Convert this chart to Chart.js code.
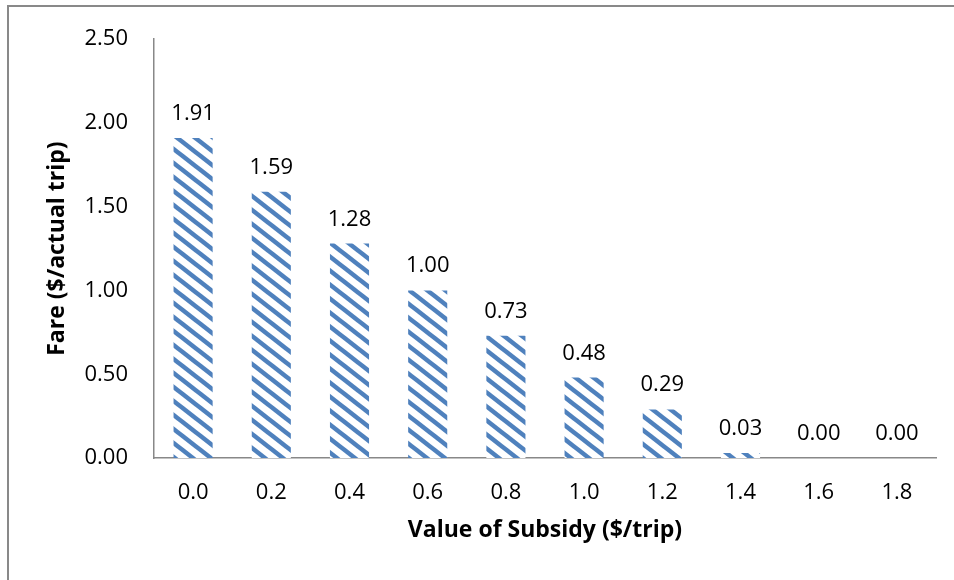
<!DOCTYPE html>
<html>
<head>
    <meta charset="utf-8">
    <title>Fare vs Value of Subsidy</title>
    <script src="https://cdn.jsdelivr.net/npm/chart.js"></script>
    <style>
        html, body {
            margin: 0;
            padding: 0;
            background: #fff;
            overflow: hidden;
        }
        .frame {
            position: absolute;
            left: 7px;
            top: 5px;
            width: 1000px;
            height: 700px;
            border-left: 2px solid #898989;
            border-top: 2px solid #898989;
        }
        .chart-container {
            position: absolute;
            left: 0;
            top: 0;
            width: 954px;
            height: 580px;
        }
    </style>
</head>
<body>
    <div class="frame"></div>
    <div class="chart-container">
        <canvas id="myChart"></canvas>
    </div>

    <script>
        // data
        const subsidyLabels = ['0.0', '0.2', '0.4', '0.6', '0.8', '1.0', '1.2', '1.4', '1.6', '1.8'];
        const fareValues = [1.91, 1.59, 1.28, 1.00, 0.73, 0.48, 0.29, 0.03, 0.00, 0.00];
        const yTickValues = [0, 0.5, 1.0, 1.5, 2.0, 2.5];

        const FONT = '"Open Sans", "Liberation Sans", sans-serif';

        // diagonal hatch fill like Excel's "wide downward diagonal"
        function makeHatch() {
            const w = 18, h = 14;
            const c = document.createElement('canvas');
            c.width = w;
            c.height = h;
            const g = c.getContext('2d');
            g.fillStyle = '#ffffff';
            g.fillRect(0, 0, w, h);
            g.strokeStyle = '#4F81BD';
            g.lineWidth = 4.5;
            for (let k = -1; k <= 1; k++) {
                g.beginPath();
                g.moveTo(-w, -h + k * h);
                g.lineTo(2 * w, 2 * h + k * h);
                g.stroke();
            }
            return g.createPattern(c, 'repeat');
        }

        // value labels above each bar
        const valueLabels = {
            id: 'valueLabels',
            afterDatasetsDraw(chart) {
                const ctx = chart.ctx;
                const meta = chart.getDatasetMeta(0);
                ctx.save();
                ctx.font = '22px ' + FONT;
                ctx.fillStyle = '#000';
                ctx.textAlign = 'center';
                ctx.textBaseline = 'alphabetic';
                meta.data.forEach((bar, i) => {
                    ctx.fillText(fareValues[i].toFixed(2), bar.x, bar.y - 18);
                });
                ctx.restore();
            }
        };

        const ctx = document.getElementById('myChart').getContext('2d');

        new Chart(ctx, {
            type: 'bar',
            data: {
                labels: subsidyLabels,
                datasets: [{
                    data: fareValues,
                    backgroundColor: makeHatch(),
                    borderWidth: 0,
                    barPercentage: 0.5,
                    categoryPercentage: 1.0
                }]
            },
            options: {
                responsive: true,
                maintainAspectRatio: false,
                animation: false,
                layout: {
                    padding: { left: 8, top: 36, right: 18, bottom: 0 }
                },
                plugins: {
                    legend: { display: false },
                    tooltip: { enabled: false }
                },
                scales: {
                    x: {
                        grid: { display: false, drawTicks: false },
                        border: { display: true, color: '#888888', width: 1.5 },
                        ticks: {
                            color: '#000',
                            padding: 22,
                            font: { family: FONT, size: 22 }
                        },
                        title: {
                            display: true,
                            text: 'Value of Subsidy ($/trip)',
                            color: '#000',
                            font: { family: FONT, size: 23, weight: 'bold', lineHeight: 1.2 },
                            padding: { top: 0, bottom: 36 }
                        },
                        afterFit(scale) {
                            scale.height = 122;
                        }
                    },
                    y: {
                        min: 0,
                        max: 2.5,
                        afterBuildTicks(scale) {
                            scale.ticks = yTickValues.map(v => ({ value: v }));
                        },
                        grid: { display: false, drawTicks: false },
                        border: { display: true, color: '#888888', width: 1.5 },
                        ticks: {
                            color: '#000',
                            padding: 26,
                            font: { family: FONT, size: 22 },
                            callback: v => Number(v).toFixed(2)
                        },
                        title: {
                            display: true,
                            text: 'Fare ($/actual trip)',
                            color: '#000',
                            font: { family: FONT, size: 23, weight: 'bold', lineHeight: 1.2 },
                            padding: { top: 36, bottom: 0 }
                        },
                        afterFit(scale) {
                            scale.width = 146;
                        }
                    }
                }
            },
            plugins: [valueLabels]
        });
    </script>
</body>
</html>
